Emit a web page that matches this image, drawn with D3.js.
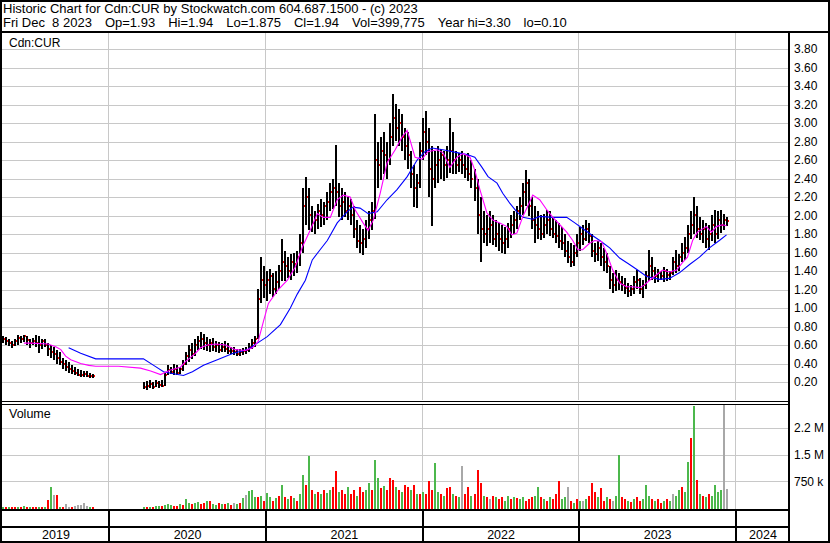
<!DOCTYPE html>
<html>
<head>
<meta charset="utf-8">
<script src="https://cdn.jsdelivr.net/npm/d3@7"></script>
<style>
    body { margin: 0; background: #fff; }
    svg { display: block; font-family: "Liberation Sans", Arial, sans-serif; }
</style>
</head>
<body>
<div id="chart"></div>
<script>
// weekly bars, first week starts Mon 2019-04-29, null = no trading
var firstWeek = new Date(2019, 3, 29);

var weekHigh = [
    0.70,0.69,0.66,0.64,0.66,0.71,0.70,0.71,0.70,0.66,0.68,0.71,0.70,0.66,0.67,0.62,0.60,0.58,0.55,0.52,0.46,0.44,0.42,0.38,0.36,0.34,0.33,0.32,0.32,0.30,0.29,
    null,null,null,null,null,null,null,null,null,null,null,null,null,null,null,null,
    0.20,0.21,0.22,0.20,0.22,0.21,0.22,0.30,0.38,0.36,0.40,0.38,0.36,0.44,0.52,0.60,0.62,0.66,0.70,0.74,0.72,0.69,0.66,0.68,0.64,0.63,0.62,0.64,0.62,0.58,0.58,0.56,0.56,0.57,0.58,0.62,0.66,0.70,
    1.20,1.55,1.45,1.40,1.42,1.38,1.40,1.46,1.75,1.62,1.55,1.58,1.60,1.62,1.80,2.30,2.42,2.30,2.10,2.05,2.12,2.18,2.15,2.25,2.35,2.40,2.76,2.35,2.30,2.25,2.20,2.18,2.10,1.95,1.90,1.85,1.95,2.05,2.15,3.10,2.80,2.85,2.90,2.80,3.00,3.31,3.20,3.15,3.10,2.95,2.90,2.70,2.55,2.45,2.80,
    3.05,3.13,2.95,2.75,2.70,2.75,2.72,2.70,2.75,3.05,2.90,2.70,2.68,2.70,2.65,2.68,2.60,2.50,2.40,2.20,2.05,2.00,2.05,2.00,1.95,1.92,1.90,1.88,1.92,2.00,2.05,2.10,2.20,2.35,2.49,2.40,2.20,2.10,2.05,2.00,2.02,2.06,2.05,1.98,1.95,1.92,1.88,1.80,1.72,1.70,1.68,1.80,1.88,
    1.90,1.95,1.92,1.80,1.70,1.72,1.70,1.65,1.60,1.45,1.38,1.41,1.38,1.35,1.32,1.27,1.25,1.35,1.41,1.32,1.30,1.40,1.63,1.55,1.44,1.42,1.40,1.44,1.42,1.40,1.55,1.63,1.58,1.70,1.77,1.90,2.05,2.20,2.10,1.98,1.95,1.92,1.90,2.00,2.06,2.05,2.06,2.02,1.98
];
var weekLow = [
    0.62,0.60,0.58,0.56,0.58,0.60,0.62,0.63,0.60,0.56,0.60,0.58,0.52,0.55,0.58,0.48,0.46,0.44,0.40,0.38,0.34,0.32,0.30,0.28,0.27,0.26,0.25,0.26,0.25,0.25,0.25,
    null,null,null,null,null,null,null,null,null,null,null,null,null,null,null,null,
    0.12,0.11,0.13,0.12,0.14,0.13,0.14,0.16,0.27,0.28,0.28,0.27,0.28,0.32,0.38,0.42,0.45,0.48,0.55,0.56,0.55,0.54,0.52,0.54,0.52,0.51,0.52,0.52,0.50,0.50,0.49,0.48,0.48,0.49,0.50,0.52,0.55,0.58,
    0.66,1.05,1.10,1.08,1.15,1.12,1.15,1.20,1.30,1.30,1.32,1.30,1.35,1.38,1.45,1.60,1.90,1.85,1.82,1.80,1.85,1.88,1.90,1.95,2.05,2.08,2.10,1.98,1.95,1.98,1.95,1.90,1.75,1.65,1.60,1.57,1.65,1.75,1.85,1.97,2.30,2.38,2.45,2.40,2.55,2.75,2.80,2.75,2.70,2.60,2.50,2.30,2.10,2.08,2.30,
    2.60,2.65,2.20,1.88,2.30,2.35,2.40,2.38,2.40,2.45,2.45,2.45,2.48,2.45,2.40,2.38,2.30,2.15,1.80,1.50,1.70,1.66,1.70,1.68,1.66,1.62,1.60,1.59,1.65,1.75,1.80,1.85,1.95,2.00,2.10,2.00,1.85,1.70,1.75,1.73,1.76,1.80,1.78,1.75,1.70,1.65,1.63,1.55,1.48,1.44,1.45,1.55,1.62,
    1.68,1.72,1.70,1.55,1.49,1.50,1.45,1.40,1.38,1.20,1.16,1.18,1.20,1.19,1.15,1.12,1.13,1.16,1.20,1.15,1.11,1.20,1.30,1.30,1.27,1.28,1.30,1.28,1.29,1.30,1.35,1.38,1.40,1.50,1.52,1.60,1.75,1.80,1.75,1.73,1.70,1.65,1.63,1.72,1.70,1.75,1.81,1.85,1.88
];
var weekClose = [
    0.66,0.64,0.62,0.60,0.64,0.68,0.66,0.70,0.65,0.62,0.64,0.62,0.60,0.64,0.60,0.56,0.52,0.50,0.46,0.42,0.40,0.36,0.34,0.32,0.30,0.28,0.28,0.29,0.27,0.27,0.26,
    null,null,null,null,null,null,null,null,null,null,null,null,null,null,null,null,
    0.15,0.16,0.18,0.15,0.19,0.17,0.16,0.28,0.33,0.31,0.34,0.30,0.34,0.40,0.48,0.55,0.50,0.60,0.64,0.66,0.62,0.60,0.62,0.58,0.60,0.55,0.58,0.56,0.54,0.53,0.52,0.50,0.52,0.53,0.55,0.58,0.62,0.66,
    1.10,1.30,1.25,1.30,1.35,1.20,1.28,1.40,1.50,1.45,1.40,1.50,1.48,1.55,1.70,2.10,2.20,2.00,1.92,1.95,2.05,2.00,2.10,2.15,2.25,2.30,2.25,2.10,2.15,2.05,2.10,2.00,1.85,1.72,1.70,1.75,1.85,1.95,2.05,2.60,2.55,2.70,2.65,2.60,2.85,3.05,2.95,3.00,2.85,2.75,2.65,2.45,2.30,2.35,2.70,
    2.90,2.80,2.50,2.40,2.55,2.60,2.65,2.55,2.60,2.70,2.60,2.55,2.60,2.55,2.50,2.45,2.40,2.30,2.00,1.85,1.80,1.85,1.90,1.75,1.80,1.75,1.70,1.75,1.85,1.90,1.95,2.05,2.10,2.25,2.35,2.10,1.95,1.90,1.85,1.80,1.90,1.95,1.85,1.80,1.78,1.72,1.70,1.62,1.55,1.50,1.60,1.70,1.80,
    1.75,1.85,1.78,1.62,1.58,1.65,1.55,1.50,1.45,1.30,1.25,1.30,1.28,1.25,1.22,1.18,1.20,1.28,1.30,1.20,1.25,1.35,1.45,1.40,1.35,1.38,1.35,1.40,1.36,1.38,1.50,1.45,1.55,1.60,1.65,1.80,1.90,2.00,1.85,1.80,1.85,1.75,1.80,1.90,1.80,1.95,1.90,1.95,1.94
];

// volume in thousands; colour code g = up, r = down, x = unchanged
var weekVolume = [
    30,25,40,20,35,30,25,45,30,20,35,40,25,30,20,220,590,360,370,40,30,110,30,25,60,80,90,140,60,30,20,
    null,null,null,null,null,null,null,null,null,null,null,null,null,null,null,null,
    20,30,25,40,60,50,70,80,120,90,70,60,100,90,260,130,110,150,170,120,150,190,200,110,90,140,100,120,130,90,150,100,150,280,360,470,510,300,
    300,350,200,420,300,200,280,350,650,300,250,350,280,200,400,930,650,1450,500,400,450,380,500,420,500,600,1030,450,500,380,600,400,500,350,600,450,500,700,500,1360,840,550,620,500,850,800,600,500,450,650,600,500,650,400,380,
    450,380,750,500,1260,450,400,350,560,600,400,350,300,1190,400,600,350,400,1080,700,350,300,250,350,300,250,300,200,350,250,300,280,250,300,200,250,300,350,600,300,250,200,300,250,380,750,250,300,600,200,150,250,200,
    200,250,350,700,450,300,550,200,300,250,200,350,1500,300,250,200,180,250,300,200,250,640,350,250,200,250,150,200,250,200,400,350,500,600,450,1300,1970,2860,800,400,350,300,400,350,640,450,500,2930,540
];
var volumeColor =
    "grgrrgrgrgrrgrgrgxrgrxxrxxxxxgr" +
    "----------------" +
    "grgrggrgggrrgrggrggrrgrggrgrgrxgrgxggg" +
    "rgrggrgrgrgrgrggrgrgrgrggrrgrrgrrgrrggrggrgrrrgrgrrgrgr" +
    "grrrggrgrrgrgxrrgrrrgrxrgrrggrgrggrrrggrgrgrrrggxrgrg" +
    "xgrrrgrrgrxggrrgrgrrgggrgrrgrgxggrggrgrgrgrggggxxg";

// moving averages: [week index, price]
var maShort = [
    [7.0,0.62],[9.3,0.62],[15,0.61],[17.6,0.58],[19.3,0.55],[20.9,0.48],[22.6,0.44],[25.9,0.40],[28.6,0.38],[30.9,0.37],
    [38.5,0.37],[45.8,0.35],[49.2,0.32],[52.5,0.28],[55.8,0.33],[59.1,0.36],[60.8,0.42],[64.1,0.51],[65.8,0.57],[68.1,0.60],
    [70.8,0.61],[74.1,0.60],[77.4,0.55],[80.7,0.54],[83.1,0.57],[85,0.64],[86.7,0.85],[88.4,1.05],[91.7,1.20],[94.7,1.30],
    [97.3,1.44],[99.7,1.66],[102.3,1.84],[104.7,2.02],[106.6,1.98],[109,1.98],[111.3,2.17],[113.3,2.22],[115.6,2.20],[117.3,2.06],
    [119.9,1.92],[121.6,1.84],[123.3,1.95],[125.6,2.24],[127.9,2.57],[130.6,2.71],[132.9,2.85],[134.6,2.92],[135.5,2.82],[137.2,2.63],
    [139.5,2.61],[141.5,2.69],[144.5,2.71],[146.5,2.68],[148.8,2.52],[151.2,2.63],[153.2,2.67],[155.5,2.63],[157.1,2.49],[158.8,2.28],
    [161.1,2.03],[163.1,1.95],[165.4,1.92],[167.8,1.88],[169.4,1.79],[171.1,1.81],[173.1,1.99],[176.4,2.22],[178.7,2.17],[181.1,2.06],
    [183.1,1.98],[185.4,1.90],[187.7,1.82],[189.7,1.73],[191.4,1.63],[193,1.63],[195.3,1.70],[197,1.73],[199.3,1.72],[201,1.59],
    [203,1.41],[205.3,1.27],[207.6,1.23],[209.6,1.23],[212,1.22],[213.6,1.25],[215.3,1.30],[217.6,1.36],[219.6,1.41],[221.9,1.39],
    [224.3,1.41],[226.2,1.49],[227.9,1.55],[229.6,1.73],[231.2,1.82],[234.2,1.88],[235.9,1.82],[237.5,1.88],[239.5,1.90],[240.9,1.89]
];
var maLong = [
    [21.9,0.57],[25.9,0.51],[30.9,0.45],[46.8,0.45],[50.2,0.38],[53.5,0.31],[56.8,0.29],[60.1,0.27],[63.1,0.31],[66.8,0.38],
    [71.4,0.44],[76.7,0.51],[81.4,0.55],[84.7,0.62],[88,0.69],[92.4,0.82],[95.7,1.00],[98,1.15],[100.7,1.30],[103,1.52],
    [105.6,1.63],[108,1.73],[111.3,1.92],[114.6,2.04],[116.6,2.09],[118.9,2.08],[121.6,2.02],[124.6,2.04],[127.9,2.17],[131.2,2.28],
    [134.6,2.42],[137.9,2.60],[140.5,2.69],[142.9,2.73],[146.5,2.71],[151.2,2.68],[154.5,2.66],[157.1,2.63],[159.5,2.52],[161.5,2.42],
    [164.5,2.35],[166.4,2.24],[168.8,2.13],[171.1,2.04],[173.1,1.98],[176.4,1.96],[178.7,1.99],[183.1,1.98],[187.7,1.98],[190.4,1.92],
    [193,1.86],[196,1.79],[198.7,1.73],[202,1.65],[205.3,1.54],[208.6,1.47],[211.3,1.41],[214.3,1.34],[218.6,1.31],[221.9,1.32],
    [225.2,1.38],[228.6,1.47],[231.9,1.55],[235.2,1.65],[238.5,1.73],[240.9,1.79]
];

var priceTicks = [0.2,0.4,0.6,0.8,1.0,1.2,1.4,1.6,1.8,2.0,2.2,2.4,2.6,2.8,3.0,3.2,3.4,3.6,3.8];
var volumeTicks = [750000, 1500000, 2250000];
var volumeTickLabels = ["750 k", "1.5 M", "2.2 M"];
var years = [2019, 2020, 2021, 2022, 2023, 2024];

var headerLine1 = "Historic Chart for Cdn:CUR by Stockwatch.com 604.687.1500 - (c) 2023";
var headerFields = ["Fri Dec  8 2023", "Op=1.93", "Hi=1.94", "Lo=1.875", "Cl=1.94", "Vol=399,775", "Year hi=3.30", "lo=0.10"];

var width = 830, height = 543;
var plotLeft = 2, plotRight = 789;
var priceTop = 33, priceBottom = 400;
var volTop = 405, volBottom = 508;
var gridColor = "#c8c8c8";
var colorOf = { g: "#4cb84c", r: "#ff0000", x: "#a8a8a8" };

var svg = d3.select("#chart").append("svg")
    .attr("width", width)
    .attr("height", height);

var x = d3.scaleTime()
    .domain([new Date(2020, 0, 1), new Date(2024, 0, 1)])
    .range([108, 735]);
var yPrice = d3.scaleLinear().domain([0.2, 3.8]).range([382, 49]);
var yVol = d3.scaleLinear().domain([0, 2250000]).range([volBottom, 428]);

function weekDate(i) {
    return d3.timeHour.offset(firstWeek, Math.round((i * 7 + 2) * 24));
}

var weeks = d3.range(weekHigh.length).map(function (i) {
    return {
        date: weekDate(i),
        hi: weekHigh[i], lo: weekLow[i], cl: weekClose[i],
        vol: weekVolume[i] == null ? null : weekVolume[i] * 1000,
        c: volumeColor[i]
    };
}).filter(function (d) { return d.hi != null; });

var defs = svg.append("defs");
defs.append("clipPath").attr("id", "clipPrice").append("rect")
    .attr("x", plotLeft).attr("y", priceTop)
    .attr("width", plotRight - plotLeft).attr("height", priceBottom - priceTop);
defs.append("clipPath").attr("id", "clipVol").append("rect")
    .attr("x", plotLeft).attr("y", volTop)
    .attr("width", plotRight - plotLeft).attr("height", volBottom - volTop + 1);

var yearStarts = years.slice(1).map(function (y) { return new Date(y, 0, 1); });

// ---- gridlines
var grid = svg.append("g").attr("shape-rendering", "crispEdges");
grid.append("g").call(d3.axisLeft(yPrice).tickValues(priceTicks).tickSize(-(plotRight - plotLeft)).tickFormat(""))
    .attr("transform", "translate(" + plotLeft + ",0)");
grid.append("g").call(d3.axisLeft(yVol).tickValues(volumeTicks).tickSize(-(plotRight - plotLeft)).tickFormat(""))
    .attr("transform", "translate(" + plotLeft + ",0)");
grid.selectAll("path.domain").remove();
grid.selectAll("line").attr("stroke", gridColor);

yearStarts.forEach(function (d) {
    var xx = Math.round(x(d)) + 0.5;
    grid.append("line").attr("x1", xx).attr("x2", xx).attr("y1", priceTop).attr("y2", priceBottom).attr("stroke", gridColor);
    grid.append("line").attr("x1", xx).attr("x2", xx).attr("y1", volTop).attr("y2", volBottom + 1).attr("stroke", gridColor);
});

// ---- price bars
var price = svg.append("g").attr("clip-path", "url(#clipPrice)").attr("shape-rendering", "crispEdges");

price.selectAll("rect.bar")
    .data(weeks)
    .enter().append("rect")
    .attr("class", "bar")
    .attr("x", function (d) { return Math.round(x(d.date)) - 1; })
    .attr("y", function (d) { return Math.round(yPrice(d.hi)); })
    .attr("width", 2)
    .attr("height", function (d) { return Math.max(1, Math.round(yPrice(d.lo) - yPrice(d.hi))); })
    .attr("fill", "#000");

// red close ticks on the right side of each bar
price.selectAll("rect.close")
    .data(weeks)
    .enter().append("rect")
    .attr("class", "close")
    .attr("x", function (d) { return Math.round(x(d.date)) + 1; })
    .attr("y", function (d) { return Math.round(yPrice(d.cl)) - 1; })
    .attr("width", 1)
    .attr("height", 2)
    .attr("fill", "#ff0000");

function maLine(points, color) {
    var line = d3.line()
        .x(function (p) { return x(weekDate(p[0])); })
        .y(function (p) { return yPrice(p[1]); });
    svg.append("path")
        .attr("clip-path", "url(#clipPrice)")
        .attr("d", line(points))
        .attr("fill", "none")
        .attr("stroke", color)
        .attr("stroke-width", 1.1);
}
maLine(maLong, "#0000ff");
maLine(maShort, "#ff00ff");

// ---- volume bars
svg.append("g").attr("clip-path", "url(#clipVol)").attr("shape-rendering", "crispEdges")
    .selectAll("rect")
    .data(weeks)
    .enter().append("rect")
    .attr("x", function (d) { return Math.round(x(d.date)) - 1; })
    .attr("y", function (d) { return Math.round(yVol(d.vol)); })
    .attr("width", 2)
    .attr("height", function (d) { return Math.max(1, volBottom + 1 - Math.round(yVol(d.vol))); })
    .attr("fill", function (d) { return colorOf[d.c] || colorOf.x; });

// ---- frame
var frame = svg.append("g").attr("shape-rendering", "crispEdges").attr("fill", "#000");
function box(x0, y0, w, h) { frame.append("rect").attr("x", x0).attr("y", y0).attr("width", w).attr("height", h); }
box(0, 0, width, 2);              // top
box(0, 0, 2, height);             // left
box(width - 2, 0, 2, height);     // right
box(0, height - 2, width, 2);     // bottom
box(0, 31, width, 2);             // under header
box(plotRight - 1, 31, 2, height - 31);  // axis line
box(0, 401, plotRight, 1);        // double line between panels
box(0, 404, plotRight, 1);
box(0, 509, plotRight, 2);        // under volume
box(0, 526, plotRight, 2);        // above years
yearStarts.forEach(function (d) {
    box(Math.round(x(d)), 510, 2, 31);
});

// ---- text
var text = svg.append("g").attr("fill", "#000");
text.append("text").attr("x", 3).attr("y", 13).attr("font-size", 13)
    .text(headerLine1);

// second header line: fields laid out one after another with wide gaps
var fx = 3;
headerFields.forEach(function (f) {
    var t = text.append("text").attr("x", fx).attr("y", 27).attr("font-size", 13)
        .text(f.replace(/ /g, "\u00a0"));
    fx += t.node().getComputedTextLength() + 13;
});

text.append("text").attr("x", 9).attr("y", 47).attr("font-size", 12).text("Cdn:CUR");
text.append("text").attr("x", 9).attr("y", 418).attr("font-size", 12.5).text("Volume");

var priceAxis = svg.append("g")
    .attr("transform", "translate(" + (plotRight + 1) + ",0)")
    .call(d3.axisRight(yPrice).tickValues(priceTicks).tickSize(0).tickPadding(4).tickFormat(d3.format(".2f")));
var volAxis = svg.append("g")
    .attr("transform", "translate(" + (plotRight + 1) + ",0)")
    .call(d3.axisRight(yVol).tickValues(volumeTicks).tickSize(0).tickPadding(4)
        .tickFormat(function (d, i) { return volumeTickLabels[i]; }));
[priceAxis, volAxis].forEach(function (a) {
    a.select("path.domain").remove();
    a.selectAll("text").attr("font-size", 12).attr("font-family", null).attr("fill", "#000");
});

// year labels centred between the dividers
var bounds = [plotLeft].concat(yearStarts.map(function (d) { return x(d); })).concat([plotRight]);
years.forEach(function (y, i) {
    text.append("text")
        .attr("x", (bounds[i] + bounds[i + 1]) / 2 + 1)
        .attr("y", 539)
        .attr("text-anchor", "middle")
        .attr("font-size", 12.5)
        .text(y);
});
</script>
</body>
</html>
